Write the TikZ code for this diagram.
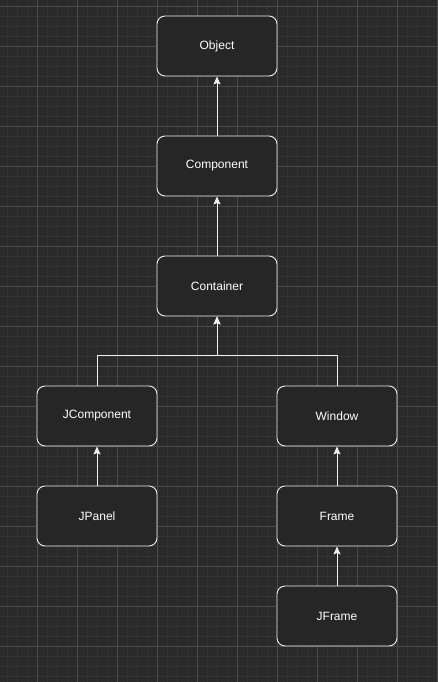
\documentclass[tikz,border=0pt]{standalone}
\usepackage{fontspec}
\setmainfont{Liberation Sans}
\usepackage{xcolor}
\usetikzlibrary{arrows.meta,calc}
\definecolor{canvas}{HTML}{2A2A2A}
\definecolor{gridminor}{HTML}{323232}
\definecolor{gridmajor}{HTML}{4A4A4A}
\definecolor{boxfill}{HTML}{262626}
\definecolor{edge}{HTML}{F0F0F0}

\begin{document}
\begin{tikzpicture}[
  x=1pt, y=-1pt,
  every node/.style={font=\fontsize{12}{14}\selectfont, text=white},
  classbox/.style={rectangle, draw=edge, line width=0.9pt, fill=boxfill, minimum width=120pt, minimum height=60pt, rounded corners=8pt, inner sep=0pt},
  arr/.style={-{Stealth[length=8pt, width=7pt, inset=1.5pt]}, line width=0.9pt, edge}
]

% Canvas and grid
\fill[canvas] (0,0) rectangle (437,682);
\useasboundingbox (0,0) rectangle (437,682);
\foreach \gx in {7,17,...,437} \draw[gridminor, line width=0.8pt] (\gx,0) -- (\gx,682);
\foreach \gy in {6,16,...,682} \draw[gridminor, line width=0.8pt] (0,\gy) -- (437,\gy);
\foreach \gx in {37,77,...,437} \draw[gridmajor, line width=0.8pt] (\gx,0) -- (\gx,682);
\foreach \gy in {6,46,...,682} \draw[gridmajor, line width=0.8pt] (0,\gy) -- (437,\gy);

% Class hierarchy
\node[classbox] (object) at (217, 46) {Object};
\node[classbox] (component) at (217, 166) {Component};
\node[classbox] (container) at (217, 286) {Container};
\node[classbox] (jcomponent) at (97, 416) {JComponent};
\node[classbox] (window) at (337, 416) {Window};
\node[classbox] (jpanel) at (97, 516) {JPanel};
\node[classbox] (frame) at (337, 516) {Frame};
\node[classbox] (jframe) at (337, 616) {JFrame};

% Arrows
\draw[arr] (component) -- (object);
\draw[arr] (container) -- (component);
\draw[arr] (jcomponent.north) -- ++(0,-30) -| (container.south);
\draw[arr] (window.north) -- ++(0,-30) -| (container.south);
\draw[arr] (jpanel) -- (jcomponent);
\draw[arr] (frame) -- (window);
\draw[arr] (jframe) -- (frame);

\end{tikzpicture}
\end{document}
